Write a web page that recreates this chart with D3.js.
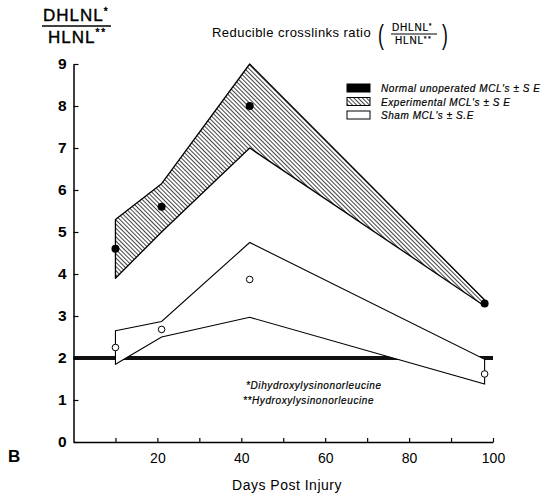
<!DOCTYPE html>
<html>
<head>
<meta charset="utf-8">
<script src="https://cdn.jsdelivr.net/npm/d3@7"></script>
<style>
  body { margin: 0; background: #fff; }
  svg { font-family: "Liberation Sans", Arial, sans-serif; }
</style>
</head>
<body>
<svg id="chart" width="544" height="496"></svg>
<script>
// values
const days = [10, 21, 42, 98];
const expMean = [4.6, 5.6, 8.0, 3.3];
const expUpper = [5.3, 6.15, 9.0, 3.38];
const expLower = [3.9, 5.0, 7.0, 3.24];
const shamMean = [2.25, 2.68, 3.87, 1.62];
const shamUpper = [2.65, 2.87, 4.75, 1.97];
const shamLower = [1.85, 2.5, 2.97, 1.38];
const normalDays = [0, 100];
const normalMean = [2.0, 2.0];
const normalSE = 0.045;
const yTicks = [0, 1, 2, 3, 4, 5, 6, 7, 8, 9];
const xTicks = [10, 20, 30, 40, 50, 60, 70, 80, 90, 100];
const xLabels = [20, 40, 60, 80, 100];
const legendLabels = ["Normal unoperated MCL's \u00b1 S E", "Experimental MCL's \u00b1 S E", "Sham MCL's \u00b1 S.E"];
const footnotes = ["*Dihydroxylysinonorleucine", "**Hydroxylysinonorleucine"];

(function() {
  let svg = d3.select('#chart');

  let x = d3.scaleLinear().domain([0, 100]).range([73.5, 493]);
  let y = d3.scaleLinear().domain([0, 9]).range([442, 64]);

  // hatch for the experimental band
  svg.append('defs').append('pattern')
    .attr('id', 'hatch')
    .attr('width', 3).attr('height', 3)
    .attr('patternUnits', 'userSpaceOnUse')
    .attr('patternTransform', 'rotate(45)')
    .append('line')
      .attr('x1', 0).attr('y1', 1.5).attr('x2', 3).attr('y2', 1.5)
      .attr('stroke', '#222').attr('stroke-width', 0.85);

  let band = (xs, lo, hi) => d3.area()
    .x((d, i) => x(xs[i]))
    .y0((d, i) => y(lo[i]))
    .y1((d, i) => y(hi[i]))(xs);

  // normal band
  svg.append('path')
    .attr('d', band(normalDays, normalMean.map(v => v - normalSE), normalMean.map(v => v + normalSE)))
    .attr('fill', '#111');

  // experimental
  let expPath = band(days, expLower, expUpper);
  svg.append('path').attr('d', expPath).attr('fill', '#fff');
  svg.append('path').attr('d', expPath)
    .attr('fill', 'url(#hatch)')
    .attr('stroke', '#000').attr('stroke-width', 1.3).attr('stroke-linejoin', 'round');

  // sham
  svg.append('path').attr('d', band(days, shamLower, shamUpper))
    .attr('fill', '#fff')
    .attr('stroke', '#000').attr('stroke-width', 1.1);

  svg.selectAll('.exp-dot').data(expMean).join('circle')
    .attr('cx', (d, i) => x(days[i])).attr('cy', d => y(d))
    .attr('r', 4).attr('fill', '#000');

  svg.selectAll('.sham-dot').data(shamMean).join('circle')
    .attr('cx', (d, i) => x(days[i])).attr('cy', d => y(d))
    .attr('r', 3.3).attr('fill', '#fff').attr('stroke', '#000').attr('stroke-width', 1);

  // y axis
  let yAxis = svg.append('g')
    .attr('transform', `translate(${x(0)},0)`)
    .call(d3.axisLeft(y).tickValues(yTicks).tickSize(-5).tickSizeOuter(0).tickPadding(7));
  yAxis.selectAll('text').attr('font-size', 15.5).attr('font-weight', 'bold').attr('font-family', 'Liberation Sans, Arial');

  // x axis
  let xAxis = svg.append('g')
    .attr('transform', `translate(0,${y(0)})`)
    .call(d3.axisBottom(x).tickValues(xTicks).tickSize(-4).tickSizeOuter(0).tickPadding(11)
      .tickFormat(d => xLabels.includes(d) ? d : ''));
  xAxis.selectAll('text').attr('font-size', 14).attr('font-family', 'Liberation Sans, Arial');

  svg.selectAll('.domain').attr('stroke-width', 1.5);
  svg.selectAll('.tick line').attr('stroke-width', 1.2);

  svg.append('text').attr('x', 287).attr('y', 490)
    .attr('text-anchor', 'middle').attr('font-size', 14).attr('letter-spacing', 0.5)
    .text('Days Post Injury');

  svg.append('text').attr('x', 8).attr('y', 462)
    .attr('font-size', 17).attr('font-weight', 'bold').text('B');

  // y-axis label as a fraction
  svg.append('text').attr('x', 43).attr('y', 21)
    .attr('font-size', 17).attr('letter-spacing', 1)
    .attr('stroke', '#000').attr('stroke-width', 0.4).text('DHLNL')
    .append('tspan').attr('dy', -6).attr('font-size', 10).text('*');
  svg.append('line').attr('x1', 42).attr('x2', 111).attr('y1', 26).attr('y2', 26)
    .attr('stroke', '#000').attr('stroke-width', 1.6);
  svg.append('text').attr('x', 48).attr('y', 43)
    .attr('font-size', 17).attr('letter-spacing', 1)
    .attr('stroke', '#000').attr('stroke-width', 0.4).text('HLNL')
    .append('tspan').attr('dy', -7).attr('font-size', 10).attr('letter-spacing', 2).text('**');

  // title
  svg.append('text').attr('x', 212).attr('y', 37)
    .attr('font-size', 13).attr('letter-spacing', 0.45).text('Reducible crosslinks ratio');
  svg.append('text').attr('transform', 'translate(378,44) scale(0.65,1)')
    .attr('font-size', 27).text('(');
  svg.append('text').attr('transform', 'translate(442,44) scale(0.65,1)')
    .attr('font-size', 27).text(')');
  svg.append('text').attr('x', 392).attr('y', 31)
    .attr('font-size', 10).attr('letter-spacing', 0.8)
    .attr('stroke', '#000').attr('stroke-width', 0.2).text('DHLNL')
    .append('tspan').attr('dy', -3).attr('font-size', 7).text('*');
  svg.append('line').attr('x1', 391).attr('x2', 437).attr('y1', 34).attr('y2', 34)
    .attr('stroke', '#000').attr('stroke-width', 1.1);
  svg.append('text').attr('x', 395).attr('y', 44)
    .attr('font-size', 10).attr('letter-spacing', 0.8)
    .attr('stroke', '#000').attr('stroke-width', 0.2).text('HLNL')
    .append('tspan').attr('dy', -3).attr('font-size', 7).attr('letter-spacing', 1.5).text('**');

  // legend
  let legend = svg.append('g').attr('transform', 'translate(347,84)');
  let fills = ['#000', 'url(#hatch)', '#fff'];
  legendLabels.forEach((label, i) => {
    let row = legend.append('g').attr('transform', `translate(0,${i * 13.5})`);
    row.append('rect').attr('width', 23).attr('height', 8)
      .attr('fill', fills[i]).attr('stroke', '#000').attr('stroke-width', 1);
    row.append('text').attr('x', 34).attr('y', 8)
      .attr('font-size', 10).attr('font-style', 'italic').attr('letter-spacing', 0.55)
      .attr('stroke', '#000').attr('stroke-width', 0.2)
      .text(label);
  });

  // footnotes
  footnotes.forEach((t, i) => {
    svg.append('text').attr('x', i === 0 ? 246 : 243).attr('y', 389 + i * 14.5)
      .attr('font-size', 10).attr('font-style', 'italic').attr('letter-spacing', 0.6)
      .attr('stroke', '#000').attr('stroke-width', 0.2)
      .text(t);
  });
})();
</script>
</body>
</html>
